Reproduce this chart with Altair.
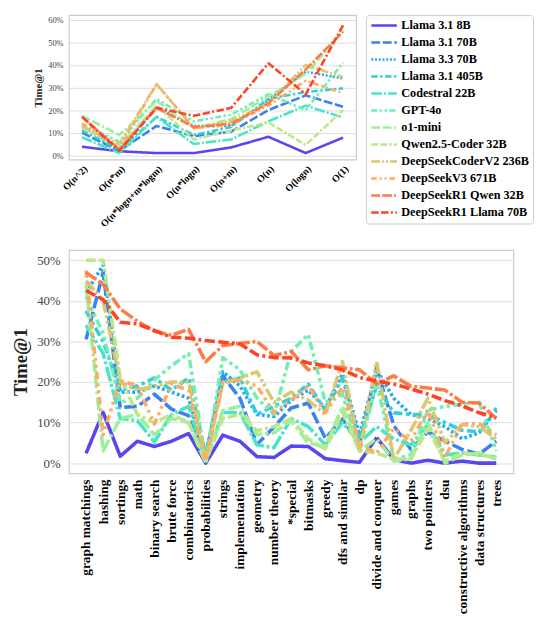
import altair as alt
import pandas as pd

FONT = "Liberation Serif"

models = ["Llama 3.1 8B", "Llama 3.1 70B", "Llama 3.3 70B", "Llama 3.1 405B",
          "Codestral 22B", "GPT-4o", "o1-mini", "Qwen2.5-Coder 32B",
          "DeepSeekCoderV2 236B", "DeepSeekV3 671B", "DeepSeekR1 Qwen 32B",
          "DeepSeekR1 Llama 70B"]
colors = ["#5a46f0", "#3b82f0", "#22aaee", "#30cfdc", "#48e6c6", "#6ff0b0",
          "#9cf09a", "#bde888", "#d9c86e", "#ffaa66", "#ff7b45", "#ff4124"]
dashes = [[1, 0], [9, 2.7], [2, 1.8], [6.5, 2.5, 2.5, 2.5], [11, 2, 2, 2],
          [6, 2.5, 2.5, 2.5, 2.5, 2.5], [9, 2.5, 9, 2.5, 2, 2.5],
          [7, 2.2, 7, 2.2, 2.2, 2.2], [9, 2, 2, 2, 2, 2],
          [5.5, 3, 2, 3, 2, 3], [9, 2, 10, 2, 2, 2], [7.5, 2.5, 7.5, 2.5, 2, 2.5]]

# ---- top panel: complexity classes ----
classes = ["O(n^2)", "O(n*m)", "O(n*logn+m*logm)", "O(n*logn)", "O(n+m)", "O(n)", "O(logn)", "O(1)"]
t_l8 = [3.8, 1.8, 1.0, 1.0, 3.5, 8.2, 1.0, 7.8]
t_l70 = [10.0, 2.0, 13.0, 8.5, 10.5, 20.0, 26.5, 21.5]
t_l33 = [13.0, 3.0, 21.5, 13.0, 13.0, 24.5, 37.0, 34.0]
t_l405 = [11.0, 2.5, 17.0, 9.0, 12.5, 25.0, 28.0, 29.6]
t_cod = [8.0, 1.0, 17.0, 5.0, 7.0, 15.0, 22.0, 16.7]
t_gpt = [14.0, 6.0, 25.0, 15.0, 18.0, 27.0, 20.0, 41.0]
t_o1 = [17.5, 9.0, 24.0, 12.0, 16.0, 26.0, 36.0, 55.0]
t_qwen = [12.0, 4.0, 22.0, 7.0, 11.0, 14.5, 4.6, 20.0]
t_dscv2 = [13.0, 5.0, 31.5, 12.0, 15.0, 23.0, 40.0, 34.5]
t_dsv3 = [14.0, 3.0, 31.5, 12.0, 13.5, 22.0, 33.0, 27.5]
t_r1q = [17.0, 2.5, 21.0, 12.5, 14.0, 23.0, 38.0, 54.6]
t_r1l = [17.0, 2.0, 21.0, 17.5, 21.0, 40.7, 27.0, 57.5]
top_series = [t_l8, t_l70, t_l33, t_l405, t_cod, t_gpt, t_o1, t_qwen, t_dscv2, t_dsv3, t_r1q, t_r1l]

# ---- bottom panel: problem tags ----
tags = ["graph matchings", "hashing", "sortings", "math", "binary search", "brute force",
        "combinatorics", "probabilities", "strings", "implementation", "geometry",
        "number theory", "*special", "bitmasks", "greedy", "dfs and similar", "dp",
        "divide and conquer", "games", "graphs", "two pointers", "dsu",
        "constructive algorithms", "data structures", "trees"]
b_l8 = [2.4, 12.5, 1.7, 5.4, 4.1, 5.4, 7.3, 0.0, 6.9, 5.4, 1.6, 1.4, 4.2, 4.1, 1.1, 0.6, 0.2, 6.3, 0.9, 0.0, 0.7, 0.0, 0.5, 0.0, 0.0]
b_l70 = [30.5, 47.0, 13.7, 14.0, 17.0, 13.3, 11.7, 2.0, 21.5, 16.0, 4.6, 8.9, 13.6, 14.8, 6.1, 10.9, 4.6, 23.5, 9.3, 3.4, 7.7, 5.4, 3.4, 2.2, 5.4]
b_l33 = [42.0, 48.8, 17.5, 17.5, 19.0, 17.5, 16.0, 1.0, 22.5, 19.0, 12.0, 11.5, 15.5, 18.0, 13.5, 22.0, 7.0, 23.0, 16.0, 12.0, 11.0, 9.0, 6.0, 7.5, 13.0]
b_l405 = [37.5, 30.0, 18.0, 19.0, 21.0, 18.0, 21.0, 2.0, 20.0, 21.0, 12.0, 14.0, 16.0, 19.5, 13.0, 21.0, 6.0, 19.0, 12.4, 12.0, 12.0, 10.0, 8.1, 7.7, 13.6]
b_cod = [34.0, 27.0, 11.0, 10.5, 5.2, 12.0, 14.0, 0.5, 12.5, 12.5, 4.5, 3.8, 11.0, 9.0, 4.5, 10.0, 5.0, 9.0, 6.0, 4.5, 9.5, 2.0, 2.5, 2.0, 1.5]
b_gpt = [41.0, 32.0, 15.0, 16.0, 20.5, 24.0, 27.0, 0.5, 26.0, 23.0, 16.0, 12.0, 27.5, 31.7, 15.0, 17.0, 3.0, 20.0, 1.0, 2.0, 13.0, 14.0, 14.5, 15.0, 3.0]
b_o1 = [44.0, 3.0, 11.0, 12.0, 7.0, 11.0, 10.0, 0.0, 13.0, 14.0, 7.0, 7.5, 10.5, 5.0, 4.0, 14.0, 3.0, 6.0, 0.5, 1.0, 10.0, 0.0, 2.0, 2.5, 1.0]
b_qwen = [50.0, 50.0, 21.0, 12.0, 10.0, 12.0, 10.0, 0.5, 11.0, 12.0, 8.0, 9.0, 11.0, 6.0, 3.5, 12.5, 3.0, 2.5, 1.0, 1.0, 8.5, 0.5, 2.5, 2.0, 1.5]
b_dscv2 = [45.0, 40.0, 20.0, 18.0, 19.0, 20.0, 20.0, 1.0, 19.5, 21.0, 22.5, 15.0, 17.5, 15.5, 12.0, 25.0, 3.0, 25.0, 1.0, 8.0, 16.0, 5.0, 9.5, 9.0, 6.0]
b_dsv3 = [47.5, 7.0, 20.3, 19.1, 9.6, 19.5, 17.9, 0.5, 20.0, 20.4, 19.0, 12.4, 15.6, 19.1, 12.4, 18.7, 4.6, 2.5, 8.5, 5.4, 13.2, 1.4, 9.7, 9.7, 7.0]
b_r1q = [47.0, 44.0, 38.0, 35.0, 32.5, 31.5, 33.0, 25.0, 29.0, 29.5, 30.0, 26.5, 27.5, 23.0, 24.0, 23.5, 23.0, 19.5, 21.5, 19.0, 18.5, 18.0, 15.0, 14.8, 11.0]
b_r1l = [42.5, 40.3, 34.7, 34.3, 32.7, 31.0, 30.8, 30.2, 29.8, 29.4, 26.7, 26.0, 25.9, 24.7, 24.0, 23.0, 21.1, 20.2, 19.5, 18.3, 17.0, 15.4, 14.1, 12.4, 11.2]
bottom_series = [b_l8, b_l70, b_l33, b_l405, b_cod, b_gpt, b_o1, b_qwen, b_dscv2, b_dsv3, b_r1q, b_r1l]


def long_table(cats, series):
    rows = []
    for m, vals in zip(models, series):
        for c, v in zip(cats, vals):
            rows.append({"cat": c, "val": v, "model": m})
    return pd.DataFrame(rows)


df_top = long_table(classes, top_series)
df_bot = long_table(tags, bottom_series)

TOP_W, TOP_H = 292, 147
BOT_W, BOT_H = 452, 227

legend = alt.Legend(title=None, orient="right", offset=10,
                    symbolType="M-1,0H4.2", symbolSize=100, symbolStrokeWidth=2.6,
                    labelFont=FONT, labelFontSize=12.4, labelFontWeight="bold",
                    labelColor="black", labelOffset=19, labelLimit=300,
                    rowPadding=4.3, padding=4, strokeColor="#cccccc",
                    cornerRadius=3, fillColor="white")

top = alt.Chart(df_top).mark_line(strokeWidth=2.6, strokeJoin="round").encode(
    x=alt.X("cat:N", sort=None,
            scale=alt.Scale(domain=classes, padding=0.35),
            axis=alt.Axis(title=None, labelAngle=-45, labelAlign="right",
                          labelBaseline="top", labelFontSize=10,
                          labelFontWeight="bold", labelColor="black",
                          labelPadding=4, labelLimit=300)),
    y=alt.Y("val:Q", scale=alt.Scale(domain=[-1.9, 62], nice=False, zero=False),
            axis=alt.Axis(values=[0, 10, 20, 30, 40, 50, 60],
                          labelExpr="datum.value + '%'", labelFontSize=8.5,
                          labelColor="#444444", labelPadding=6,
                          title="Time@1", titleFontSize=11, titleFontWeight="bold",
                          titleColor="#222222", titlePadding=4)),
    color=alt.Color("model:N", scale=alt.Scale(domain=models, range=colors), legend=legend),
    strokeDash=alt.StrokeDash("model:N", scale=alt.Scale(domain=models, range=dashes), legend=legend),
).properties(width=TOP_W, height=TOP_H)

dashes_b = [[d * 1.4 for d in ds] for ds in dashes]

bottom = alt.Chart(df_bot).mark_line(strokeWidth=3.6, strokeJoin="round").encode(
    x=alt.X("cat:N", sort=None,
            scale=alt.Scale(domain=tags, padding=1.2),
            axis=alt.Axis(title=None, labelAngle=-90, labelAlign="right",
                          labelBaseline="middle", labelFontSize=13.6,
                          labelFontWeight="bold", labelColor="black",
                          labelPadding=6, labelLimit=300)),
    y=alt.Y("val:Q", scale=alt.Scale(domain=[-2.5, 52.5], nice=False, zero=False),
            axis=alt.Axis(values=[0, 10, 20, 30, 40, 50],
                          labelExpr="datum.value + '%'", labelFontSize=13,
                          labelColor="#444444", labelPadding=9,
                          title="Time@1", titleFontSize=19, titleFontWeight="bold",
                          titleColor="#222222", titlePadding=6)),
    color=alt.Color("model:N", scale=alt.Scale(domain=models, range=colors), legend=None),
    strokeDash=alt.StrokeDash("model:N", scale=alt.Scale(domain=models, range=dashes_b), legend=None),
).properties(width=BOT_W, height=BOT_H)

chart = alt.ConcatChart(concat=[top, bottom], columns=1, align="none", spacing=20).resolve_scale(
    color="independent", strokeDash="independent"
).properties(
    padding={"left": 3, "top": 0, "right": 0, "bottom": 0}
).configure_view(
    stroke="#cccccc", strokeWidth=1.2
).configure_axis(
    labelFont=FONT, titleFont=FONT, gridColor="#dddddd", gridWidth=1,
    domain=False, ticks=False
).configure_legend(
    offset=10
)

chart.save("out.html", embed_options={"renderer": "svg", "actions": False})
